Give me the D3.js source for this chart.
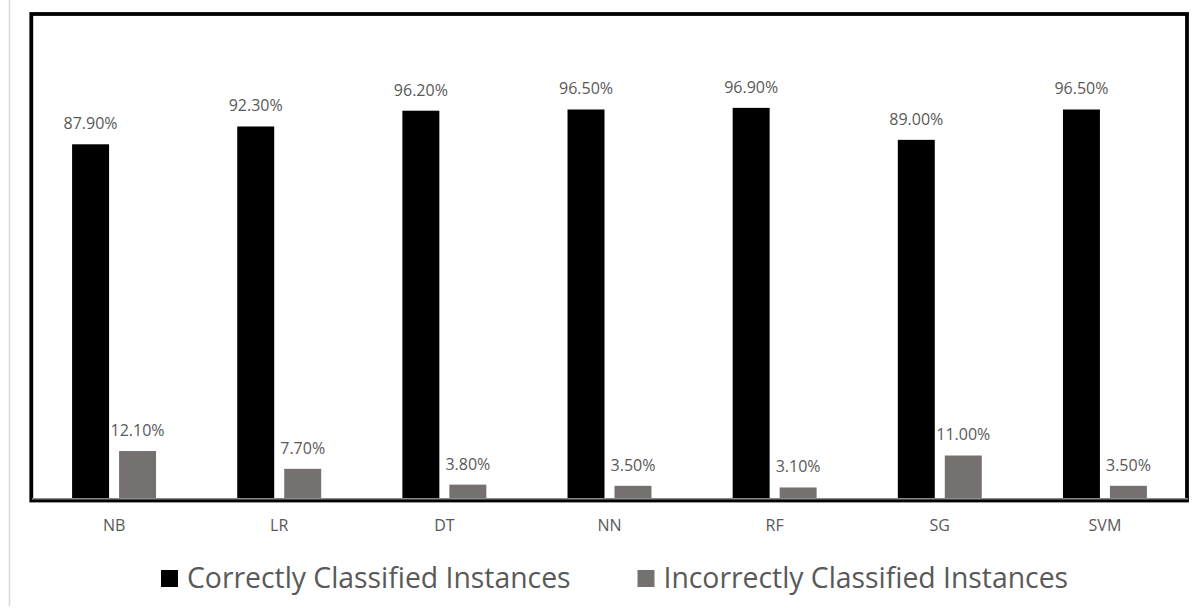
<!DOCTYPE html>
<html>
<head>
<meta charset="utf-8">
<script src="https://cdn.jsdelivr.net/npm/d3@7"></script>
<style>
  html, body { margin: 0; padding: 0; background: #fff; }
  svg { display: block; }
  text { font-family: "Open Sans", sans-serif; fill: #595959; }
</style>
</head>
<body>
<script>
// Classifier accuracy, percent of instances
const categories = ["NB", "LR", "DT", "NN", "RF", "SG", "SVM"];
const seriesNames = ["Correctly Classified Instances", "Incorrectly Classified Instances"];
const correct = [87.9, 92.3, 96.2, 96.5, 96.9, 89.0, 96.5];
const incorrect = [12.1, 7.7, 3.8, 3.5, 3.1, 11.0, 3.5];
const seriesColors = ["#000000", "#767171"];

const width = 1203, height = 611;
const svg = d3.select("body").append("svg")
  .attr("width", width).attr("height", height);

// faint page edge on the left
svg.append("line")
  .attr("x1", 9.5).attr("x2", 9.5).attr("y1", 0).attr("y2", 606)
  .attr("stroke", "#d9d9d9").attr("stroke-width", 1.5);

const plot = { left: 31.5, right: 1187.5, top: 14.4, bottom: 500 };

const x0 = d3.scaleBand().domain(categories)
  .range([plot.left, plot.right]).paddingInner(0).paddingOuter(0);
const x1 = d3.scaleBand().domain(seriesNames)
  .range([0, x0.bandwidth()]).paddingInner(0.213).paddingOuter(0.864);
const y = d3.scaleLinear().domain([0, 120]).range([plot.bottom, plot.top]);

const rows = categories.map((c, i) => ({
  cat: c,
  vals: [correct[i], incorrect[i]]
}));

const groups = svg.append("g").selectAll("g")
  .data(rows).join("g")
  .attr("transform", d => `translate(${x0(d.cat)},0)`);

groups.selectAll("rect")
  .data(d => d.vals.map((v, k) => ({ name: seriesNames[k], v, k })))
  .join("rect")
  .attr("x", d => x1(d.name))
  .attr("y", d => y(d.v))
  .attr("width", x1.bandwidth())
  .attr("height", d => y(0) - y(d.v))
  .attr("fill", d => seriesColors[d.k]);

groups.selectAll("text.val")
  .data(d => d.vals.map((v, k) => ({ name: seriesNames[k], v, k })))
  .join("text")
  .attr("class", "val")
  .attr("x", d => x1(d.name) + x1.bandwidth() / 2)
  .attr("y", d => y(d.v) - 15)
  .attr("text-anchor", "middle")
  .attr("font-size", 16)
  .text(d => d.v.toFixed(2) + "%");

// plot frame
svg.append("rect")
  .attr("x", 31.3).attr("y", 14)
  .attr("width", 1155.7).attr("height", 486.5)
  .attr("fill", "none").attr("stroke", "#000").attr("stroke-width", 3.8);

// category axis
const xAxis = d3.axisBottom(x0).tickSize(0).tickPadding(0);
const axG = svg.append("g").attr("transform", `translate(0,498.3)`).call(xAxis);
axG.select(".domain").attr("stroke", "#8c8c8c").attr("stroke-width", 1.6);
axG.selectAll(".tick text")
  .attr("font-size", 16)
  .attr("fill", "#595959")
  .attr("font-family", "Open Sans, sans-serif")
  .attr("dy", null)
  .attr("y", 32.5);

// legend
const legendX = [161, 637.5];
const leg = svg.append("g").selectAll("g")
  .data(seriesNames).join("g")
  .attr("transform", (d, i) => `translate(${legendX[i]},0)`);
leg.append("rect")
  .attr("x", 0).attr("y", 570).attr("width", 17).attr("height", 17)
  .attr("fill", (d, i) => seriesColors[i]);
leg.append("text")
  .attr("transform", "translate(26,588.3) scale(0.945,1)")
  .attr("font-size", 30)
  .text(d => d);
</script>
</body>
</html>
